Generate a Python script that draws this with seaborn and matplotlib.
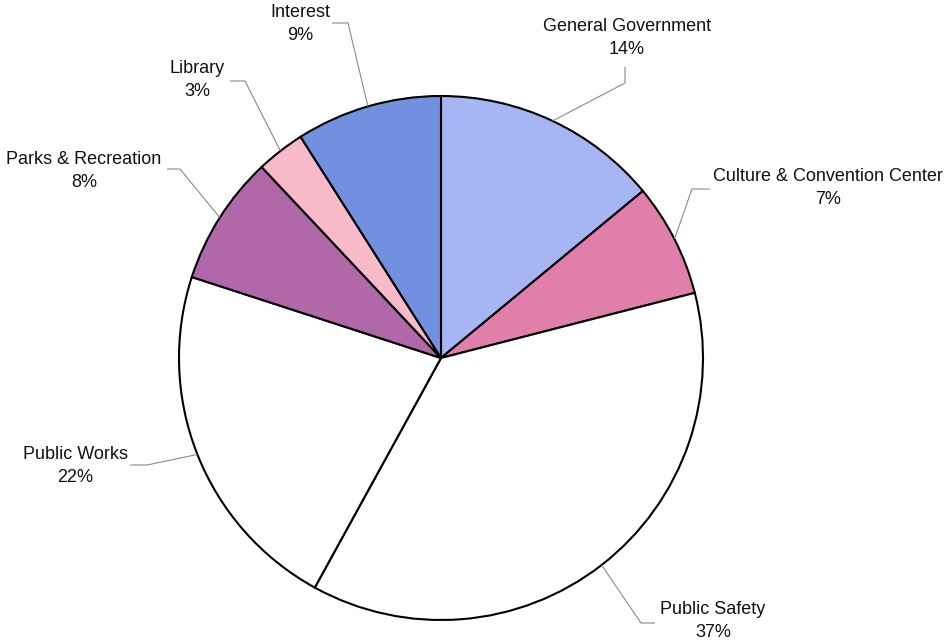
import numpy as np
import matplotlib.pyplot as plt
import seaborn as sns

sns.set_theme(style='white')
plt.rcParams['font.family'] = ['Liberation Sans', 'DejaVu Sans']

# ── Data ──────────────────────────────────────────────────────────────────────
categories = ['General Government', 'Culture & Convention Center', 'Public Safety',
              'Public Works', 'Parks & Recreation', 'Library', 'Interest']
shares = [14, 7, 37, 22, 8, 3, 9]
colors = ['#A7B5F5', '#E07FA9', '#FFFFFF', '#FFFFFF', '#B068A9', '#F8B9C9', '#7191E0']

# ── Layout (pixel coords, y measured from top) ───────────────────────────────
W, H = 946, 644
CX, CY, R = 441, 358, 262
# label centre, elbow point, leader end
label_pos = [(627, 38), (828, 188), (713, 621), (75, 466), (84, 171), (197, 80), (300, 24)]
elbows = [(625, 83), (692, 189), (641, 623), (147, 465), (180, 169), (245, 81), (348, 23)]
ends = [(625, 67), (710, 189), (655, 623), (130, 465), (167, 169), (230, 81), (332, 23)]

fig = plt.figure(figsize=(9.46, 6.44), dpi=100)
ax = fig.add_axes([0, 0, 1, 1])

wedges, _ = ax.pie(shares, colors=colors, startangle=90, counterclock=False,
                   center=(CX, H - CY), radius=R,
                   wedgeprops=dict(edgecolor='black', linewidth=1.5))
ax.set_xlim(0, W)
ax.set_ylim(0, H)
ax.set_aspect('equal')
ax.axis('off')

for w, name, val, lp, el, en in zip(wedges, categories, shares, label_pos, elbows, ends):
    mid = np.deg2rad((w.theta1 + w.theta2) / 2)
    sx = CX + R * np.cos(mid)
    sy = (H - CY) + R * np.sin(mid)
    ax.plot([sx, el[0], en[0]], [sy, H - el[1], H - en[1]],
            color='#8a8a8a', lw=0.8, solid_capstyle='butt')
    ax.text(lp[0], H - lp[1], f'{name}\n{val}%', ha='center', va='center',
            fontsize=13, linespacing=1.5, color='#111111')

fig.savefig('out.png', dpi=100, facecolor='white')
